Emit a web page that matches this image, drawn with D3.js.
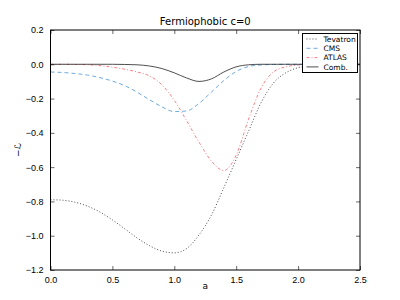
<!DOCTYPE html>
<html>
<head>
<meta charset="utf-8">
<script src="https://cdn.jsdelivr.net/npm/d3@7"></script>
<style>
  body { margin: 0; background: #fff; }
  svg { font-family: "DejaVu Sans", sans-serif; }
</style>
</head>
<body>
<div class="chart"></div>
<script>
// values
const aValues = [0.0, 0.1, 0.2, 0.3, 0.4, 0.5, 0.6, 0.7, 0.8, 0.9, 1.0, 1.1, 1.2,
  1.3, 1.4, 1.5, 1.6, 1.7, 1.8, 1.9, 2.0, 2.1, 2.2, 2.3, 2.4, 2.5]
const tevatron = [-0.79, -0.793, -0.805, -0.828, -0.862, -0.908, -0.96, -1.013, -1.058, -1.09, -1.10, -1.075, -0.995,
  -0.88, -0.72, -0.555, -0.39, -0.225, -0.11, -0.05, -0.02, -0.008, -0.003, -0.001, 0, 0]
const cms = [-0.045, -0.048, -0.054, -0.063, -0.078, -0.098, -0.125, -0.163, -0.207, -0.248, -0.276, -0.272, -0.228,
  -0.162, -0.095, -0.042, -0.013, -0.004, -0.001, 0, 0, 0, 0, 0, 0, 0]
const atlas = [0, 0, -0.001, -0.003, -0.008, -0.017, -0.029, -0.045, -0.068, -0.12, -0.21, -0.33, -0.455,
  -0.565, -0.62, -0.53, -0.32, -0.14, -0.045, -0.015, -0.004, 0, 0, 0, 0, 0]
const comb = [0, 0, 0, 0, 0, 0, -0.001, -0.003, -0.01, -0.025, -0.05, -0.08, -0.10,
  -0.085, -0.045, -0.015, -0.003, 0, 0, 0, 0, 0, 0, 0, 0, 0]
const xTicks = [0.0, 0.5, 1.0, 1.5, 2.0, 2.5]
const yTicks = [0.2, 0.0, -0.2, -0.4, -0.6, -0.8, -1.0, -1.2]

const series = [
  { name: 'Tevatron', values: tevatron, color: '#222', dash: '1,2', width: 0.8 },
  { name: 'CMS', values: cms, color: '#4a94d8', dash: '4,3', width: 0.8 },
  { name: 'ATLAS', values: atlas, color: '#f0606a', dash: '3,2,1,2', width: 0.8 },
  { name: 'Comb.', values: comb, color: '#222', dash: null, width: 0.8 }
]

const svg_width = 400
const svg_height = 300
const margin = { top: 30, right: 40, bottom: 30, left: 50.5 }
const chart_width = svg_width - margin.left - margin.right
const chart_height = svg_height - margin.top - margin.bottom

const svg = d3.select('.chart').append('svg')
  .attr('width', svg_width).attr('height', svg_height)

const g = svg.append('g')
  .attr('transform', `translate(${margin.left}, ${margin.top})`)

const xScale = d3.scaleLinear([0, 2.5], [0, chart_width])
const yScale = d3.scaleLinear([-1.2, 0.2], [chart_height, 0])

const fmt = d => d3.format('.1f')(d).replace('-', '\u2212')

// lines
const line = d3.line()
  .x((d, i) => xScale(aValues[i]))
  .y(d => yScale(d))
  .curve(d3.curveMonotoneX)

g.append('g').attr('class', 'lines')
  .selectAll('path').data(series).join('path')
  .attr('d', d => line(d.values))
  .attr('fill', 'none')
  .attr('stroke', d => d.color)
  .attr('stroke-width', d => d.width)
  .attr('stroke-dasharray', d => d.dash)

// axes (ticks inside, on all four sides)
const axisStyle = sel => {
  sel.select('.domain').remove()
  sel.selectAll('line').attr('stroke', '#000').attr('stroke-width', 0.6)
  sel.selectAll('text').attr('fill', '#000').style('font-size', '9px')
}
g.append('g').attr('transform', `translate(0, ${chart_height})`)
  .call(d3.axisBottom(xScale).tickValues(xTicks).tickFormat(fmt).tickSizeInner(-4).tickPadding(7))
  .call(axisStyle)
g.append('g')
  .call(d3.axisTop(xScale).tickValues(xTicks).tickSizeInner(-4).tickFormat(''))
  .call(axisStyle)
g.append('g')
  .call(d3.axisLeft(yScale).tickValues(yTicks).tickFormat(fmt).tickSizeInner(-4).tickPadding(7))
  .call(axisStyle)
g.append('g').attr('transform', `translate(${chart_width}, 0)`)
  .call(d3.axisRight(yScale).tickValues(yTicks).tickSizeInner(-4).tickFormat(''))
  .call(axisStyle)

// frame
g.append('rect')
  .attr('width', chart_width).attr('height', chart_height)
  .attr('fill', 'none').attr('stroke', '#000').attr('stroke-width', 1)

// title & labels
svg.append('text')
  .attr('x', margin.left + chart_width / 2).attr('y', 25)
  .attr('text-anchor', 'middle').style('font-size', '10px')
  .text('Fermiophobic c=0')
svg.append('text')
  .attr('x', margin.left + chart_width / 2).attr('y', 289)
  .attr('text-anchor', 'middle').style('font-size', '9px')
  .text('a')
svg.append('text')
  .attr('transform', `translate(21, ${margin.top + chart_height / 2}) rotate(-90)`)
  .attr('text-anchor', 'middle').style('font-size', '9px')
  .html('\u2212<tspan font-style="italic">\u2112</tspan>')

// legend
const legend = svg.append('g').attr('transform', 'translate(302.5, 33.5)')
legend.append('rect')
  .attr('width', 55).attr('height', 39)
  .attr('fill', '#fff').attr('stroke', '#000').attr('stroke-width', 1)
const item = legend.selectAll('.item').data(series).join('g')
  .attr('class', 'item')
  .attr('transform', (d, i) => `translate(0, ${5.5 + i * 9.3})`)
item.append('line')
  .attr('x1', 4).attr('x2', 16)
  .attr('stroke', d => d.color)
  .attr('stroke-width', d => d.width)
  .attr('stroke-dasharray', d => d.dash)
item.append('text')
  .attr('x', 21).attr('dy', '0.35em')
  .style('font-size', '7.5px')
  .text(d => d.name)
</script>
</body>
</html>
